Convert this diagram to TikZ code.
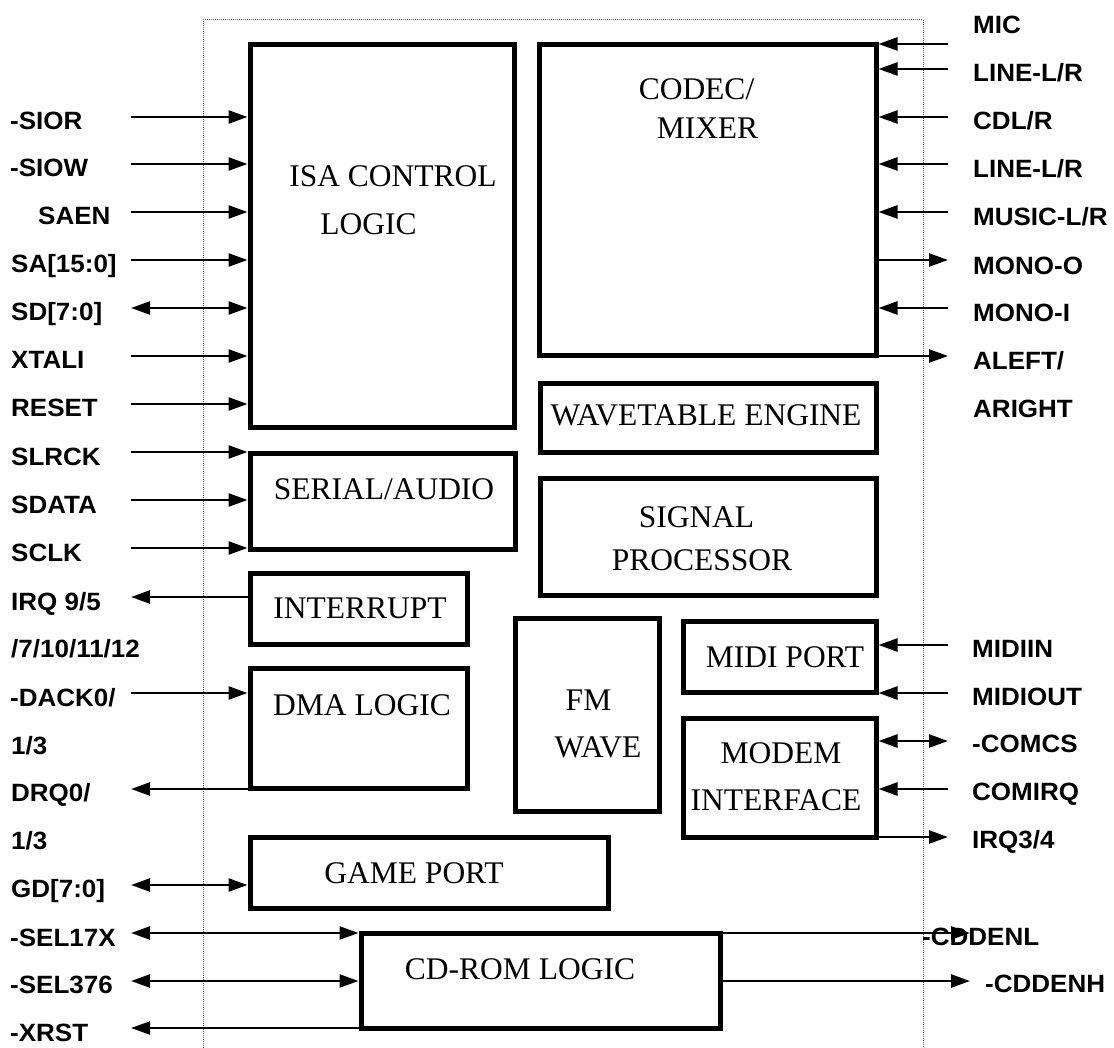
\documentclass[tikz,border=0pt]{standalone}
\usepackage{fontspec}
\setmainfont{Liberation Serif}
\newfontfamily\labfont[FakeStretch=1.04]{Liberation Sans Bold}
\usetikzlibrary{arrows.meta}
\begin{document}
\begin{tikzpicture}[x=1pt,y=-1pt,
  >={Triangle[length=19pt,width=13pt]},
  blk/.style={draw, line width=5pt, inner sep=0pt, rectangle},
  txt/.style={font=\fontsize{31.5}{36}\selectfont, inner sep=0pt, anchor=base},
  lab/.style={font=\labfont\fontsize{25}{30}\selectfont, inner sep=0pt, anchor=base west},
  wire/.style={line width=2.4pt},
  frame/.style={draw=black!65, line width=1pt, dash pattern=on 1pt off 1pt}]
\useasboundingbox (0,0) rectangle (1114,1048);
% outer dotted frame
\draw[frame] (203,1048) -- (203,20) -- (923,20) -- (923,1048);
% blocks
\node[blk, minimum width=264pt, minimum height=383pt] (isa) at (382,236.5) {};
\node[blk, minimum width=337pt, minimum height=311pt] (codec) at (707.5,200.5) {};
\node[blk, minimum width=265pt, minimum height=96pt] (serial) at (382.5,501) {};
\node[blk, minimum width=217pt, minimum height=71pt] (intr) at (358.5,608.5) {};
\node[blk, minimum width=217pt, minimum height=120pt] (dma) at (358.5,728) {};
\node[blk, minimum width=358pt, minimum height=71pt] (game) at (429,872.5) {};
\node[blk, minimum width=359pt, minimum height=95pt] (cdrom) at (540.5,980.5) {};
\node[blk, minimum width=336pt, minimum height=68pt] (wave) at (708,418) {};
\node[blk, minimum width=336pt, minimum height=117pt] (sigp) at (708,536.5) {};
\node[blk, minimum width=144pt, minimum height=193pt] (fm) at (587,714.5) {};
\node[blk, minimum width=193pt, minimum height=71pt] (midi) at (779.5,656.5) {};
\node[blk, minimum width=193pt, minimum height=119pt] (modem) at (779.5,777.5) {};
% block texts
\node[txt] (tisa1) at (393,187) {ISA CONTROL};
\node[txt] (tisa2) at (368.5,235) {LOGIC};
\node[txt] (tcod1) at (696.5,100) {CODEC/};
\node[txt] (tcod2) at (707.5,139) {MIXER};
\node[txt] (twave) at (706,426) {WAVETABLE ENGINE};
\node[txt] (tsig1) at (696.5,527) {SIGNAL};
\node[txt] (tsig2) at (702,570) {PROCESSOR};
\node[txt] (tser) at (384,499) {SERIAL/AUDIO};
\node[txt] (tint) at (360,618) {INTERRUPT};
\node[txt] (tdma) at (362,715) {DMA LOGIC};
\node[txt] (tfm1) at (588.5,710) {FM};
\node[txt] (tfm2) at (598,757) {WAVE};
\node[txt] (tmidi) at (785,667) {MIDI PORT};
\node[txt] (tmod1) at (781,763) {MODEM};
\node[txt] (tmod2) at (776,810) {INTERFACE};
\node[txt] (tgame) at (414,883) {GAME PORT};
\node[txt] (tcd) at (520,979) {CD-ROM LOGIC};
% left free ends
\coordinate (lsior) at (131,117);
\coordinate (lsiow) at (131,164);
\coordinate (lsaen) at (131,212);
\coordinate (lsa) at (131,260);
\coordinate (lsd) at (131,308);
\coordinate (lxtali) at (131,356);
\coordinate (lreset) at (131,404);
\coordinate (lslrck) at (131,452);
\coordinate (lsdata) at (131,500);
\coordinate (lsclk) at (131,548);
\coordinate (lirq) at (131,597);
\coordinate (ldack) at (131,693);
\coordinate (ldrq) at (131,789);
\coordinate (lgd) at (131,885);
\coordinate (lsel17) at (131,933);
\coordinate (lsel376) at (131,981);
\coordinate (lxrst) at (131,1028);
% left connectors
\draw[wire,->] (lsior) -- (lsior -| isa.west);
\draw[wire,->] (lsiow) -- (lsiow -| isa.west);
\draw[wire,->] (lsaen) -- (lsaen -| isa.west);
\draw[wire,->] (lsa) -- (lsa -| isa.west);
\draw[wire,<->] (lsd) -- (lsd -| isa.west);
\draw[wire,->] (lxtali) -- (lxtali -| isa.west);
\draw[wire,->] (lreset) -- (lreset -| isa.west);
\draw[wire,->] (lslrck) -- (lslrck -| serial.west);
\draw[wire,->] (lsdata) -- (lsdata -| serial.west);
\draw[wire,->] (lsclk) -- (lsclk -| serial.west);
\draw[wire,->] (lirq -| intr.west) -- (lirq);
\draw[wire,->] (ldack) -- (ldack -| dma.west);
\draw[wire,->] (ldrq -| dma.west) -- (ldrq);
\draw[wire,<->] (lgd) -- (lgd -| game.west);
\draw[wire,<->] (lsel17) -- (lsel17 -| cdrom.west);
\draw[wire,<->] (lsel376) -- (lsel376 -| cdrom.west);
\draw[wire,->] (lxrst -| cdrom.west) -- (lxrst);
% right free ends
\coordinate (rmic) at (948,44);
\coordinate (rline1) at (948,69);
\coordinate (rcdl) at (948,117);
\coordinate (rline2) at (948,164);
\coordinate (rmusic) at (948,212);
\coordinate (rmonoo) at (948,260);
\coordinate (rmonoi) at (948,308);
\coordinate (raleft) at (948,356);
\coordinate (rmidiin) at (948,645);
\coordinate (rmidiout) at (948,693);
\coordinate (rcomcs) at (948,741);
\coordinate (rcomirq) at (948,789);
\coordinate (rirq) at (948,837);
\coordinate (rcdl2) at (970,933);
\coordinate (rcdh) at (970,981);
% right connectors
\draw[wire,->] (rmic) -- (rmic -| codec.east);
\draw[wire,->] (rline1) -- (rline1 -| codec.east);
\draw[wire,->] (rcdl) -- (rcdl -| codec.east);
\draw[wire,->] (rline2) -- (rline2 -| codec.east);
\draw[wire,->] (rmusic) -- (rmusic -| codec.east);
\draw[wire,->] (rmonoo -| codec.east) -- (rmonoo);
\draw[wire,->] (rmonoi) -- (rmonoi -| codec.east);
\draw[wire,->] (raleft -| codec.east) -- (raleft);
\draw[wire,->] (rmidiin) -- (rmidiin -| midi.east);
\draw[wire,->] (rmidiout) -- (rmidiout -| midi.east);
\draw[wire,<->] (rcomcs) -- (rcomcs -| modem.east);
\draw[wire,->] (rcomirq) -- (rcomirq -| modem.east);
\draw[wire,->] (rirq -| modem.east) -- (rirq);
\draw[wire,->] (rcdl2 -| cdrom.east) -- (rcdl2);
\draw[wire,->] (rcdh -| cdrom.east) -- (rcdh);
% left labels
\node[lab] (nsior) at (10,130) {-SIOR};
\node[lab] (nsiow) at (10,177) {-SIOW};
\node[lab] (nsaen) at (38,225) {SAEN};
\node[lab] (nsa) at (11,273) {SA[15:0]};
\node[lab] (nsd) at (11,321) {SD[7:0]};
\node[lab] (nxtali) at (11,369) {XTALI};
\node[lab] (nreset) at (11,417) {RESET};
\node[lab] (nslrck) at (11,465) {SLRCK};
\node[lab] (nsdata) at (11,513) {SDATA};
\node[lab] (nsclk) at (11,561) {SCLK};
\node[lab] (nirq) at (11,610) {IRQ 9/5};
\node[lab] (nirq2) at (11,657) {/7/10/11/12};
\node[lab] (ndack) at (10,706) {-DACK0/};
\node[lab] (ndack2) at (11,754) {1/3};
\node[lab] (ndrq) at (11,801) {DRQ0/};
\node[lab] (ndrq2) at (11,849) {1/3};
\node[lab] (ngd) at (11,897) {GD[7:0]};
\node[lab] (nsel17) at (10,946) {-SEL17X};
\node[lab] (nsel376) at (10,993) {-SEL376};
\node[lab] (nxrst) at (10,1041) {-XRST};
% right labels
\node[lab] (nmic) at (973,34) {MIC};
\node[lab] (nline1) at (973,82) {LINE-L/R};
\node[lab] (ncdl) at (973,130) {CDL/R};
\node[lab] (nline2) at (973,178) {LINE-L/R};
\node[lab] (nmusic) at (973,226) {MUSIC-L/R};
\node[lab] (nmonoo) at (973,275) {MONO-O};
\node[lab] (nmonoi) at (973,322) {MONO-I};
\node[lab] (naleft) at (973,370) {ALEFT/};
\node[lab] (naright) at (973,418) {ARIGHT};
\node[lab] (nmidiin) at (972,657) {MIDIIN};
\node[lab] (nmidiout) at (972,705) {MIDIOUT};
\node[lab] (ncomcs) at (972,752) {-COMCS};
\node[lab] (ncomirq) at (972,800) {COMIRQ};
\node[lab] (nirq34) at (972,848) {IRQ3/4};
\node[lab] (ncddenl) at (922,945) {-CDDENL};
\node[lab] (ncddenh) at (985,992) {-CDDENH};
\end{tikzpicture}
\end{document}
